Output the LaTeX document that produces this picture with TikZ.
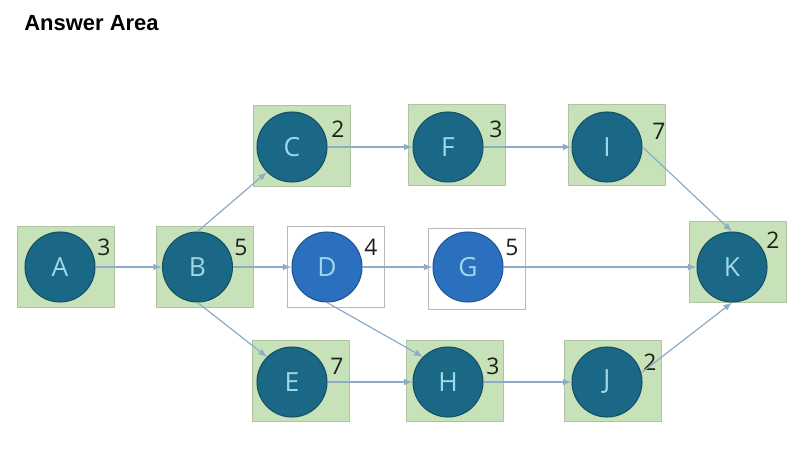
\documentclass[tikz,border=0pt]{standalone}
\usepackage{fontspec}
\setmainfont{Open Sans}
\newfontfamily\titlefont{Liberation Sans}
\usetikzlibrary{arrows}
\usetikzlibrary{shapes}
\definecolor{boxGreen}{RGB}{199,225,184}
\definecolor{boxEdge}{RGB}{175,195,165}
\definecolor{greyEdge}{RGB}{185,185,185}
\definecolor{tealFill}{RGB}{26,104,134}
\definecolor{tealEdge}{RGB}{20,80,100}
\definecolor{blueFill}{RGB}{42,112,190}
\definecolor{blueEdge}{RGB}{30,85,145}
\definecolor{letterCol}{RGB}{160,215,230}
\definecolor{edgeCol}{RGB}{140,172,202}
\definecolor{numCol}{RGB}{30,30,30}

\begin{document}
\begin{tikzpicture}[x = 0.02cm, y = -0.02cm]
	\tikzstyle{greenBox} = [rectangle, minimum width = 1.94cm, minimum height = 1.62cm, inner sep = 0pt, fill = boxGreen, draw = boxEdge, line width = 0.4pt]
	\tikzstyle{whiteBox} = [greenBox, fill = white, draw = greyEdge]
	\tikzstyle{tealStyle} = [shape = circle, minimum size = 1.4cm, inner sep = 0pt, fill = tealFill, draw = tealEdge, line width = 0.6pt, text = letterCol, font = \fontsize{15}{15}\selectfont]
	\tikzstyle{blueStyle} = [tealStyle, fill = blueFill, draw = blueEdge]
	\tikzstyle{numStyle} = [inner sep = 0pt, text = numCol, font = \fontsize{13}{13}\selectfont]
	\tikzstyle{EdgeStyle} = [draw = edgeCol, line width = 0.7pt, -latex]
	\useasboundingbox (0,0) rectangle (800,456);
	\node[anchor = west, inner sep = 0pt, font = \titlefont\bfseries\fontsize{12.5}{12.5}\selectfont] (title) at (24,23.5) {Answer Area};
	\node[greenBox] (boxA) at (66,267) {};
	\node[greenBox] (boxB) at (204.5,267) {};
	\node[greenBox] (boxC) at (301.5,146) {};
	\node[greenBox] (boxF) at (456.5,145) {};
	\node[greenBox] (boxI) at (617,144.5) {};
	\node[whiteBox] (boxD) at (336,266.5) {};
	\node[whiteBox] (boxG) at (477,268.5) {};
	\node[greenBox] (boxK) at (738,262) {};
	\node[greenBox] (boxE) at (300.5,381) {};
	\node[greenBox] (boxH) at (455,381) {};
	\node[greenBox] (boxJ) at (613,381) {};
	\node[tealStyle] (A) at (60,267) {A};
	\node[tealStyle] (B) at (197.5,267) {B};
	\node[tealStyle] (C) at (292,147) {C};
	\node[tealStyle] (F) at (448,147) {F};
	\node[tealStyle] (I) at (607,147) {I};
	\node[blueStyle] (D) at (327,267) {D};
	\node[blueStyle] (G) at (468,267) {G};
	\node[tealStyle] (K) at (732,267) {K};
	\node[tealStyle] (E) at (292,382) {E};
	\node[tealStyle] (H) at (448,382) {H};
	\node[tealStyle] (J) at (607,382) {J};
	\node[numStyle] (nA) at (104,247) {3};
	\node[numStyle] (nB) at (241,247) {5};
	\node[numStyle] (nC) at (338,129) {2};
	\node[numStyle] (nF) at (496,129) {3};
	\node[numStyle] (nI) at (659,131) {7};
	\node[numStyle] (nD) at (371,247) {4};
	\node[numStyle] (nG) at (512,247) {5};
	\node[numStyle] (nK) at (773,240) {2};
	\node[numStyle] (nE) at (337,366) {7};
	\node[numStyle] (nH) at (493,366) {3};
	\node[numStyle] (nJ) at (650,362) {2};
	\draw[EdgeStyle] (A.east) -- (B.west);
	\draw[EdgeStyle] (B.north) -- (C.225);
	\draw[EdgeStyle] (B.east) -- (D.west);
	\draw[EdgeStyle] (B.south) -- (E.135);
	\draw[EdgeStyle] (C.east) -- (F.west);
	\draw[EdgeStyle] (F.east) -- (I.west);
	\draw[EdgeStyle] (D.east) -- (G.west);
	\draw[EdgeStyle] (D.south) -- (H.135);
	\draw[EdgeStyle] (G.east) -- (K.west);
	\draw[EdgeStyle] (E.east) -- (H.west);
	\draw[EdgeStyle] (H.east) -- (J.west);
	\draw[EdgeStyle] (I.east) -- (K.north);
	\draw[EdgeStyle] (J.15) -- (K.south);
\end{tikzpicture}
\end{document}
